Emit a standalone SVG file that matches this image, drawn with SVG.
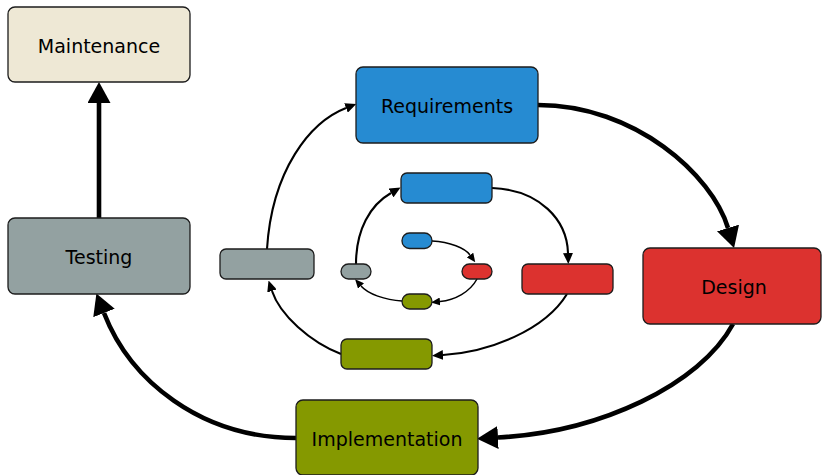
<svg xmlns="http://www.w3.org/2000/svg" width="822" height="475" viewBox="0 0 822 475">
<style>
  .box { stroke: #1c1c1c; stroke-width: 1.3; }
  .blue { fill: #268bd2; }
  .red { fill: #dc322f; }
  .green { fill: #859900; }
  .gray { fill: #93a1a1; }
  .beige { fill: #eee8d5; }
  .lbl { font-family: "DejaVu Sans", "Liberation Sans", sans-serif; font-size: 19px; fill: #000; text-anchor: middle; }
  .big { fill: none; stroke: #000; stroke-width: 4.6; marker-end: url(#ahBig); }
  .mid { fill: none; stroke: #000; stroke-width: 2.1; marker-end: url(#ahMid); }
  .sml { fill: none; stroke: #000; stroke-width: 1.5; marker-end: url(#ahSml); }
</style>
<defs>
  <marker id="ahBig" markerUnits="userSpaceOnUse" viewBox="0 0 21 23" refX="0" refY="11.5" markerWidth="21" markerHeight="23" orient="auto">
    <path d="M0,0 L21,11.5 L0,23 z" fill="#000"/>
  </marker>
  <marker id="ahMid" markerUnits="userSpaceOnUse" viewBox="0 0 11 10" refX="0" refY="5" markerWidth="11" markerHeight="10" orient="auto">
    <path d="M0,0 L11,5 L0,10 z" fill="#000"/>
  </marker>
  <marker id="ahSml" markerUnits="userSpaceOnUse" viewBox="0 0 9 8" refX="0" refY="4" markerWidth="9" markerHeight="8" orient="auto">
    <path d="M0,0 L9,4 L0,8 z" fill="#000"/>
  </marker>
</defs>

<g id="connectors">
  <path class="big" d="M99,218 L99,103"/>
  <path class="big" d="M538,105 C635,105 712,175 728,228"/>
  <path class="big" d="M733,324 C700,385 600,432 498,437.5"/>
  <path class="big" d="M296,438 C200,438 130,380 104,313"/>
  <path class="mid" d="M267,249 C272,170 310,122 346,108"/>
  <path class="mid" d="M492,188 C540,190 567,220 568,253"/>
  <path class="mid" d="M567,294 C545,330 490,352 443,355"/>
  <path class="mid" d="M341,354 C310,342 280,315 272,291"/>
  <path class="mid" d="M356,264 C356,230 370,205 391,193"/>
  <path class="sml" d="M432,241 C450,242 465,248 470,255"/>
  <path class="sml" d="M477,279 C470,292 455,300 440,301.5"/>
  <path class="sml" d="M402,301 C385,300 368,294 361,286"/>
</g>

<g id="maintenance">
  <rect class="box beige" x="8" y="7" width="182" height="75" rx="7"/>
  <text class="lbl" x="99" y="52.5">Maintenance</text>
</g>
<g id="testing">
  <rect class="box gray" x="8" y="218" width="182" height="76" rx="7"/>
  <text class="lbl" x="99" y="264">Testing</text>
</g>
<g id="requirements">
  <rect class="box blue" x="356" y="67" width="182" height="76" rx="7"/>
  <text class="lbl" x="447" y="112.7">Requirements</text>
</g>
<g id="design">
  <rect class="box red" x="643" y="248" width="178" height="76" rx="7"/>
  <text class="lbl" x="734" y="294">Design</text>
</g>
<g id="implementation">
  <rect class="box green" x="296" y="400" width="182" height="75" rx="7"/>
  <text class="lbl" x="387" y="445.5">Implementation</text>
</g>

<g id="testing2">
  <rect class="box gray" x="220" y="249" width="94" height="30" rx="6"/>
</g>
<g id="requirements2">
  <rect class="box blue" x="401" y="173" width="91" height="30" rx="6"/>
</g>
<g id="design2">
  <rect class="box red" x="522" y="264" width="91" height="30" rx="6"/>
</g>
<g id="implementation2">
  <rect class="box green" x="341" y="339" width="91" height="30" rx="6"/>
</g>

<g id="testing3">
  <rect class="box gray" x="341" y="264" width="30" height="15" rx="7.5"/>
</g>
<g id="requirements3">
  <rect class="box blue" x="402" y="233" width="30" height="15.5" rx="7.5"/>
</g>
<g id="design3">
  <rect class="box red" x="462" y="264" width="30" height="15" rx="7.5"/>
</g>
<g id="implementation3">
  <rect class="box green" x="402" y="294" width="30" height="15" rx="7.5"/>
</g>
</svg>
